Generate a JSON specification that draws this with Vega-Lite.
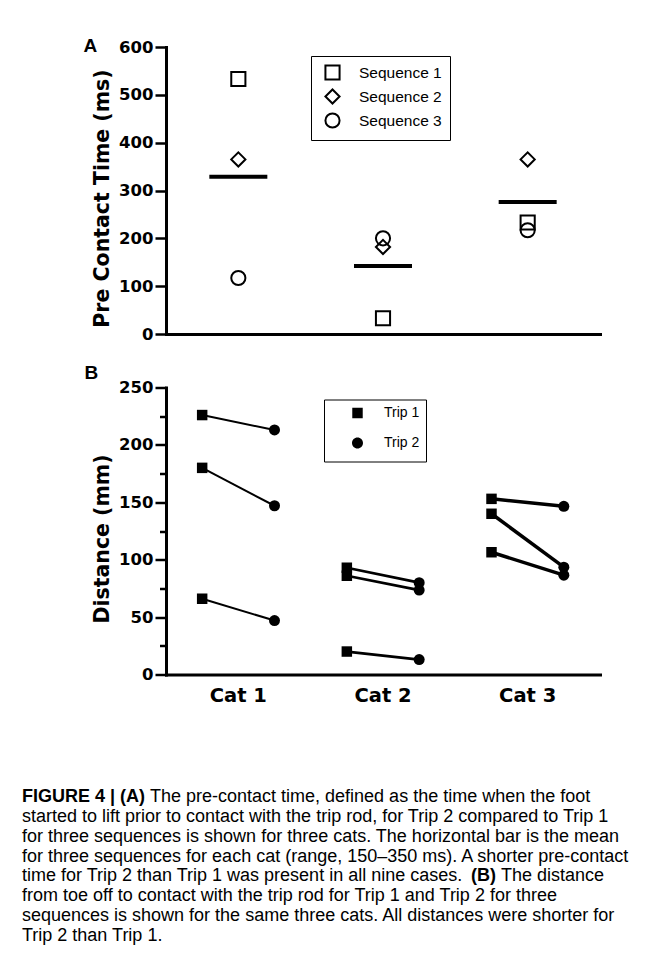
{
  "$schema": "https://vega.github.io/schema/vega-lite/v6.json",
  "background": "white",
  "padding": {"left": 22, "top": 37, "right": 0, "bottom": 0},
  "config": {
    "view": {"stroke": null},
    "axis": {
      "domainColor": "black", "domainWidth": 3, "domainCap": "square",
      "tickColor": "black", "tickWidth": 2.5,
      "labelColor": "black", "labelFont": "DejaVu Sans", "labelFontWeight": "bold", "labelFontSize": 16.5,
      "titleColor": "black", "titleFont": "DejaVu Sans", "titleFontWeight": "bold", "titleFontSize": 20.5,
      "grid": false
    },
    "legend": {
      "labelFont": "Liberation Sans", "labelFontSize": 15.5, "labelColor": "black",
      "strokeColor": "black", "fillColor": "white"
    },
    "title": {"font": "Liberation Sans", "fontSize": 19, "fontWeight": "bold", "color": "black"}
  },
  "datasets": {
    "seqTimes": [
      {"cat": "Cat 1", "seq": "Sequence 1", "time": 533},
      {"cat": "Cat 1", "seq": "Sequence 2", "time": 365},
      {"cat": "Cat 1", "seq": "Sequence 3", "time": 117},
      {"cat": "Cat 2", "seq": "Sequence 1", "time": 33},
      {"cat": "Cat 2", "seq": "Sequence 2", "time": 182},
      {"cat": "Cat 2", "seq": "Sequence 3", "time": 200},
      {"cat": "Cat 3", "seq": "Sequence 1", "time": 233},
      {"cat": "Cat 3", "seq": "Sequence 2", "time": 365},
      {"cat": "Cat 3", "seq": "Sequence 3", "time": 217}
    ],
    "means": [
      {"cat": "Cat 1", "mean": 329},
      {"cat": "Cat 2", "mean": 142},
      {"cat": "Cat 3", "mean": 276}
    ],
    "distances": [
      {"cat": "Cat 1", "seq": "Sequence 1", "trip": "Trip 1", "dist": 226},
      {"cat": "Cat 1", "seq": "Sequence 1", "trip": "Trip 2", "dist": 213},
      {"cat": "Cat 1", "seq": "Sequence 2", "trip": "Trip 1", "dist": 180},
      {"cat": "Cat 1", "seq": "Sequence 2", "trip": "Trip 2", "dist": 147},
      {"cat": "Cat 1", "seq": "Sequence 3", "trip": "Trip 1", "dist": 66},
      {"cat": "Cat 1", "seq": "Sequence 3", "trip": "Trip 2", "dist": 47},
      {"cat": "Cat 2", "seq": "Sequence 1", "trip": "Trip 1", "dist": 93},
      {"cat": "Cat 2", "seq": "Sequence 1", "trip": "Trip 2", "dist": 80},
      {"cat": "Cat 2", "seq": "Sequence 2", "trip": "Trip 1", "dist": 86},
      {"cat": "Cat 2", "seq": "Sequence 2", "trip": "Trip 2", "dist": 73.5},
      {"cat": "Cat 2", "seq": "Sequence 3", "trip": "Trip 1", "dist": 20},
      {"cat": "Cat 2", "seq": "Sequence 3", "trip": "Trip 2", "dist": 13},
      {"cat": "Cat 3", "seq": "Sequence 1", "trip": "Trip 1", "dist": 153},
      {"cat": "Cat 3", "seq": "Sequence 1", "trip": "Trip 2", "dist": 146.5},
      {"cat": "Cat 3", "seq": "Sequence 2", "trip": "Trip 1", "dist": 140},
      {"cat": "Cat 3", "seq": "Sequence 2", "trip": "Trip 2", "dist": 93.5},
      {"cat": "Cat 3", "seq": "Sequence 3", "trip": "Trip 1", "dist": 106.5},
      {"cat": "Cat 3", "seq": "Sequence 3", "trip": "Trip 2", "dist": 86.5}
    ],
    "caption": [
      {"line": 1, "part": "figure", "text": "FIGURE 4 | (A)"},
      {"line": 1, "part": "after-figure", "text": "The pre-contact time, defined as the time when the foot"},
      {"line": 2, "part": "body", "text": "started to lift prior to contact with the trip rod, for Trip 2 compared to Trip 1"},
      {"line": 3, "part": "body", "text": "for three sequences is shown for three cats. The horizontal bar is the mean"},
      {"line": 4, "part": "body", "text": "for three sequences for each cat (range, 150–350 ms). A shorter pre-contact"},
      {"line": 5, "part": "body", "text": "time for Trip 2 than Trip 1 was present in all nine cases."},
      {"line": 5, "part": "panel-b", "text": "(B)"},
      {"line": 5, "part": "after-panel-b", "text": "The distance"},
      {"line": 6, "part": "body", "text": "from toe off to contact with the trip rod for Trip 1 and Trip 2 for three"},
      {"line": 7, "part": "body", "text": "sequences is shown for the same three cats. All distances were shorter for"},
      {"line": 8, "part": "body", "text": "Trip 2 than Trip 1."}
    ]
  },
  "spacing": 82.5,
  "vconcat": [
    {
      "spacing": 20.5,
      "resolve": {"scale": {"shape": "independent"}, "legend": {"shape": "independent"}},
      "vconcat": [
        {
          "width": 434,
          "height": 287,
          "title": {"text": "A", "anchor": "start", "frame": "bounds", "offset": -17, "dx": -9},
          "layer": [
            {
              "data": {"name": "means"},
              "mark": {"type": "tick", "color": "black", "thickness": 4, "size": 58, "opacity": 1},
              "encoding": {
                "x": {"field": "cat", "type": "nominal", "scale": {"type": "point", "padding": 0.5}, "axis": {"title": null, "labels": false, "ticks": false}},
                "y": {"field": "mean", "type": "quantitative", "scale": {"domain": [0, 600], "nice": false},
                  "axis": {
                    "title": "Pre Contact Time (ms)",
                    "titleY": 151,
                    "values": [0, 50, 100, 150, 200, 250, 300, 350, 400, 450, 500, 550, 600],
                    "labelExpr": "datum.value % 100 === 0 ? datum.label : ''",
                    "tickSize": {"condition": {"test": "datum.value % 100 === 0", "value": 11}, "value": 6.5},
                    "labelPadding": 2,
                    "titlePadding": 6
                  }
                }
              }
            },
            {
              "data": {"name": "seqTimes"},
              "mark": {"type": "point", "filled": false, "stroke": "black", "strokeWidth": 2, "size": 200, "opacity": 1},
              "encoding": {
                "x": {"field": "cat", "type": "nominal"},
                "y": {"field": "time", "type": "quantitative"},
                "shape": {
                  "field": "seq", "type": "nominal",
                  "scale": {"domain": ["Sequence 1", "Sequence 2", "Sequence 3"], "range": ["square", "diamond", "circle"]},
                  "legend": {
                    "title": null, "orient": "none", "legendX": 145, "legendY": 9,
                    "padding": 8, "rowPadding": 1, "labelOffset": 18, "symbolOffset": 5,
                    "symbolSize": 200, "symbolStrokeWidth": 2, "symbolStrokeColor": "black", "symbolFillColor": "white"
                  }
                }
              }
            }
          ]
        },
        {
          "width": 434,
          "height": 287,
          "title": {"text": "B", "anchor": "start", "frame": "bounds", "offset": -3, "dx": -8},
          "data": {"name": "distances"},
          "encoding": {
            "x": {"field": "cat", "type": "nominal", "scale": {"type": "band", "paddingInner": 0, "paddingOuter": 0},
              "axis": {"title": null, "ticks": false, "labelAngle": 0, "labelFontSize": 19.5, "labelPadding": 12}},
            "xOffset": {"field": "trip", "type": "nominal", "scale": {"type": "point", "padding": 0.5}},
            "y": {"field": "dist", "type": "quantitative", "scale": {"domain": [0, 250], "nice": false},
              "axis": {
                "title": "Distance (mm)",
                "titleY": 151,
                "values": [0, 25, 50, 75, 100, 125, 150, 175, 200, 225, 250],
                "labelExpr": "datum.value % 50 === 0 ? datum.label : ''",
                "tickSize": {"condition": {"test": "datum.value % 50 === 0", "value": 11}, "value": 6.5},
                "labelPadding": 2,
                "titlePadding": 6
              }
            }
          },
          "layer": [
            {
              "mark": {"type": "line", "color": "black"},
              "encoding": {
                "detail": [{"field": "cat"}, {"field": "seq"}],
                "strokeWidth": {"field": "cat", "type": "nominal", "scale": {"domain": ["Cat 1", "Cat 2", "Cat 3"], "range": [2, 3.5, 3.5]}, "legend": null}
              }
            },
            {
              "transform": [{"filter": "datum.trip === 'Trip 1'"}],
              "mark": {"type": "point", "shape": "square", "filled": true, "color": "black", "size": 110, "opacity": 1}
            },
            {
              "transform": [{"filter": "datum.trip === 'Trip 2'"}],
              "mark": {"type": "point", "shape": "circle", "filled": true, "color": "black", "size": 121, "opacity": 1}
            },
            {
              "mark": {"type": "point", "filled": false, "fill": "black", "stroke": "black", "strokeWidth": 3.5, "size": 121, "opacity": 0},
              "encoding": {
                "shape": {
                  "field": "trip", "type": "nominal",
                  "scale": {
                    "domain": ["Trip 1", "Trip 2"],
                    "range": [
                      "M-3.9,0L3.9,0M-0.95,-0.95L0.95,-0.95L0.95,0.95L-0.95,0.95Z",
                      "M-3.9,0L3.9,0M-1,0A1,1,0,1,0,1,0A1,1,0,1,0,-1,0Z"
                    ]
                  },
                  "legend": {
                    "title": null, "orient": "none", "legendX": 158, "legendY": 12,
                    "padding": 6, "rowPadding": 5, "labelOffset": 19, "symbolOffset": 20,
                    "labelFontSize": 14,
                    "symbolSize": 121, "symbolOpacity": 1,
                    "symbolFillColor": "black", "symbolStrokeColor": "black", "symbolStrokeWidth": 3.5
                  }
                }
              }
            }
          ]
        }
      ]
    },
    {
      "width": 434,
      "height": 158,
      "data": {"name": "caption"},
      "encoding": {
        "y": {"field": "line", "type": "ordinal", "scale": {"type": "point", "padding": 0.5}, "axis": null},
        "x": {"value": -144},
        "text": {"field": "text"}
      },
      "layer": [
        {
          "transform": [{"filter": "datum.part === 'body'"}],
          "mark": {"type": "text", "align": "left", "baseline": "middle", "font": "Liberation Sans", "fontSize": 18, "color": "black"}
        },
        {
          "transform": [{"filter": "datum.part === 'figure'"}],
          "mark": {"type": "text", "align": "left", "baseline": "middle", "font": "Liberation Sans", "fontSize": 18, "fontWeight": "bold", "color": "black"}
        },
        {
          "transform": [{"filter": "datum.part === 'after-figure'"}],
          "mark": {"type": "text", "align": "left", "baseline": "middle", "font": "Liberation Sans", "fontSize": 18, "color": "black", "dx": 128}
        },
        {
          "transform": [{"filter": "datum.part === 'panel-b'"}],
          "mark": {"type": "text", "align": "left", "baseline": "middle", "font": "Liberation Sans", "fontSize": 18, "fontWeight": "bold", "color": "black", "dx": 449}
        },
        {
          "transform": [{"filter": "datum.part === 'after-panel-b'"}],
          "mark": {"type": "text", "align": "left", "baseline": "middle", "font": "Liberation Sans", "fontSize": 18, "color": "black", "dx": 479}
        }
      ]
    }
  ]
}
